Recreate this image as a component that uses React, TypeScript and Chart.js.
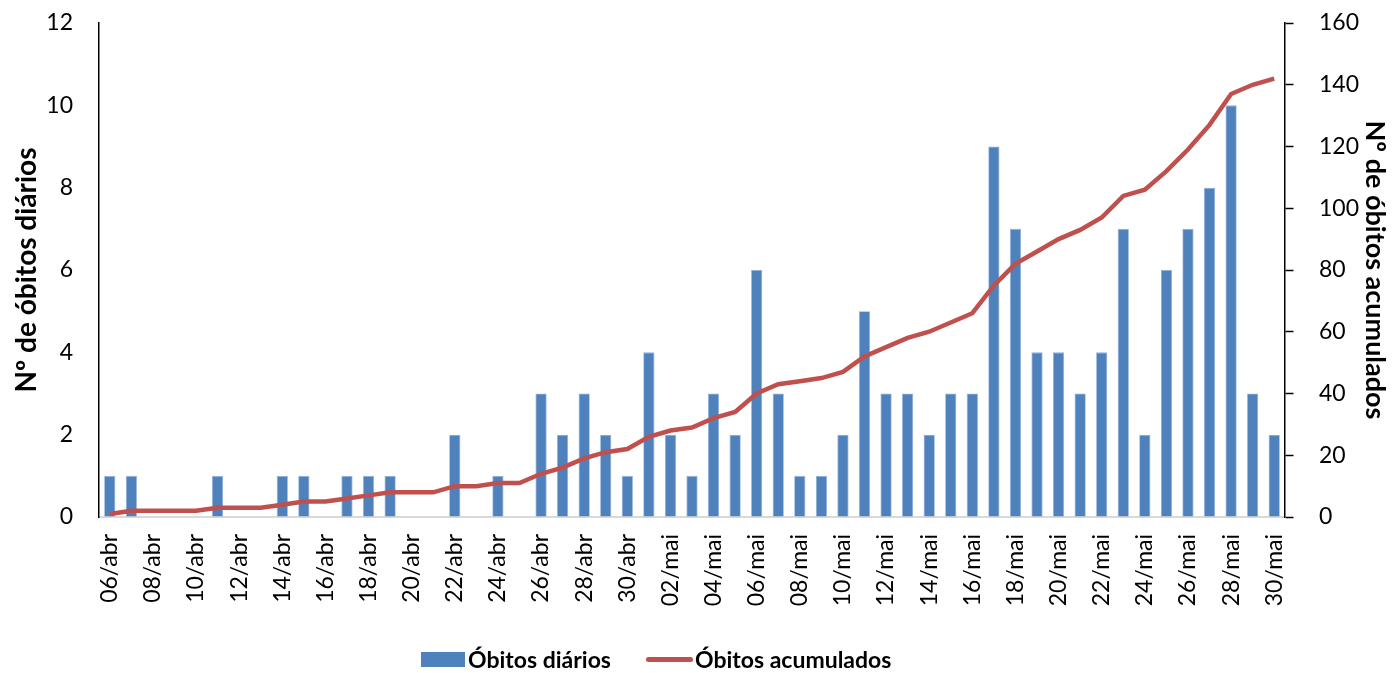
import React, { useEffect, useRef } from "react";
import { Chart, registerables } from "chart.js";

Chart.register(...registerables);

const dates: string[] = [
  "06/abr","07/abr","08/abr","09/abr","10/abr","11/abr","12/abr","13/abr","14/abr","15/abr",
  "16/abr","17/abr","18/abr","19/abr","20/abr","21/abr","22/abr","23/abr","24/abr","25/abr",
  "26/abr","27/abr","28/abr","29/abr","30/abr","01/mai","02/mai","03/mai","04/mai","05/mai",
  "06/mai","07/mai","08/mai","09/mai","10/mai","11/mai","12/mai","13/mai","14/mai","15/mai",
  "16/mai","17/mai","18/mai","19/mai","20/mai","21/mai","22/mai","23/mai","24/mai","25/mai",
  "26/mai","27/mai","28/mai","29/mai","30/mai",
];

const obitosDiarios: number[] = [
  1,1,0,0,0,1,0,0,1,1,
  0,1,1,1,0,0,2,0,1,0,
  3,2,3,2,1,4,2,1,3,2,
  6,3,1,1,2,5,3,3,2,3,
  3,9,7,4,4,3,4,7,2,6,
  7,8,10,3,2,
];

const obitosAcumulados: number[] = [
  1,2,2,2,2,3,3,3,4,5,
  5,6,7,8,8,8,10,10,11,11,
  14,16,19,21,22,26,28,29,32,34,
  40,43,44,45,47,52,55,58,60,63,
  66,75,82,86,90,93,97,104,106,112,
  119,127,137,140,142,
];

const leftTicks: number[] = [0, 2, 4, 6, 8, 10, 12];
const rightTicks: number[] = [0, 20, 40, 60, 80, 100, 120, 140, 160];

const FONT = "Lato, 'Open Sans', sans-serif";
const BLUE = "#4F81BD";
const RED = "#C0504D";

export default function App() {
  const ref = useRef<HTMLCanvasElement | null>(null);

  useEffect(() => {
    document.body.style.margin = "0";
    const ctx = ref.current!;
    const chart = new Chart(ctx, {
      type: "bar",
      data: {
        labels: dates,
        datasets: [
          {
            type: "line",
            label: "Óbitos acumulados",
            data: obitosAcumulados,
            yAxisID: "y1",
            borderColor: RED,
            backgroundColor: RED,
            borderWidth: 4.5,
            pointRadius: 0,
            tension: 0,
            order: 0,
          } as any,
          {
            type: "bar",
            label: "Óbitos diários",
            data: obitosDiarios,
            yAxisID: "y",
            backgroundColor: BLUE,
            borderColor: "#8FB0DA",
            borderWidth: 0.8,
            barPercentage: 0.52,
            categoryPercentage: 1,
            order: 1,
          } as any,
        ],
      },
      options: {
        animation: false,
        responsive: false,
        maintainAspectRatio: false,
        layout: { padding: { top: 23, bottom: 33, left: 0, right: 0 } },
        plugins: {
          legend: { display: false },
          tooltip: { enabled: false },
        },
        scales: {
          x: {
            grid: { display: false, drawTicks: false },
            border: { display: true, color: "#D9D9D9", width: 2 },
            ticks: {
              autoSkip: false,
              maxRotation: 90,
              minRotation: 90,
              padding: 17,
              color: "#000",
              font: { family: FONT, size: 23 },
              callback: function (this: any, v: any, i: number) {
                return i % 2 === 0 ? dates[i] : "";
              },
            },
            afterFit: (s: any) => {
              s.height = 123;
            },
          },
          y: {
            position: "left",
            min: 0,
            max: 12,
            afterBuildTicks: (s: any) => {
              s.ticks = leftTicks.map((v) => ({ value: v }));
            },
            grid: {
              display: true,
              drawOnChartArea: false,
              drawTicks: true,
              tickLength: 24,
              tickColor: "rgba(0,0,0,0)",
            },
            border: { display: true, color: "#000", width: 1.5 },
            ticks: {
              color: "#000",
              padding: 2,
              font: { family: FONT, size: 23 },
            },
            title: {
              display: true,
              text: "Nº de óbitos diários",
              color: "#000",
              font: { family: FONT, size: 28, weight: "bold", lineHeight: 1 },
              padding: { top: 13, bottom: 0 },
            },
            afterFit: (s: any) => {
              s.width = 99;
            },
          },
          y1: {
            position: "right",
            min: 0,
            max: 160,
            afterBuildTicks: (s: any) => {
              s.ticks = rightTicks.map((v) => ({ value: v }));
            },
            grid: {
              display: true,
              drawOnChartArea: false,
              drawTicks: true,
              tickLength: 34,
              tickColor: "#000",
              tickWidth: 1.5,
              tickBorderDash: [8, 80],
            },
            border: { display: true, color: "#000", width: 1.5 },
            ticks: {
              color: "#000",
              padding: 0,
              font: { family: FONT, size: 23 },
            },
            title: {
              display: true,
              text: "Nº de óbitos acumulados",
              color: "#000",
              font: { family: FONT, size: 27, weight: "bold", lineHeight: 1 },
              padding: { top: 4, bottom: 0 },
            },
            afterFit: (s: any) => {
              s.width = 107;
            },
          },
        },
      },
    });
    return () => chart.destroy();
  }, []);

  const legendText: React.CSSProperties = {
    position: "absolute",
    top: 644,
    fontFamily: FONT,
    fontWeight: "bold",
    fontSize: 23,
    lineHeight: "30px",
    color: "#000",
    whiteSpace: "nowrap",
  };

  return (
    <div style={{ position: "relative", width: 1392, height: 673 }}>
      <canvas ref={ref} width={1392} height={673} style={{ display: "block" }} />
      <span style={{ position: "absolute", left: 421, top: 652, width: 44, height: 15, background: BLUE }} />
      <span style={{ ...legendText, left: 468 }}>Óbitos diários</span>
      <span style={{ position: "absolute", left: 646, top: 657, width: 47, height: 5, borderRadius: 3, background: RED }} />
      <span style={{ ...legendText, left: 695 }}>Óbitos acumulados</span>
    </div>
  );
}
